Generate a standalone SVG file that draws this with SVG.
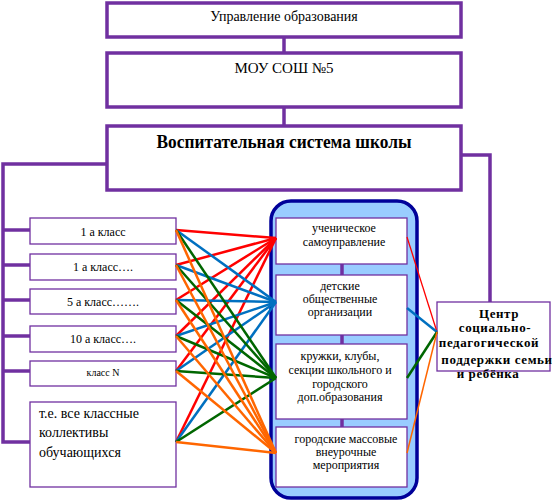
<svg xmlns="http://www.w3.org/2000/svg" width="552" height="501" viewBox="0 0 552 501">
<style>
.top{fill:#fff;stroke:#7030A0;stroke-width:3.5}
.box{fill:#fff;stroke:#7030A0;stroke-width:1.3}
.pl{fill:none;stroke:#7030A0;stroke-width:3.5}
text{font-family:'Liberation Serif','DejaVu Serif','Times New Roman',serif;fill:#000}
.c{text-anchor:middle}
.r{stroke:#FF0000}
.b{stroke:#0070C0}
.g{stroke:#006600}
.o{stroke:#FF6600}
#links line{stroke-width:2.5}
</style>
<rect width="552" height="501" fill="#fff"/>
<g id="connectors">
<polyline class="pl" points="284,37 284,53"/>
<polyline class="pl" points="284,107 284,126"/>
<polyline class="pl" points="107,164 3,164 3,442 30,442"/>
<polyline class="pl" points="3,230 30,230"/>
<polyline class="pl" points="3,265 30,265"/>
<polyline class="pl" points="3,300 30,300"/>
<polyline class="pl" points="3,336 30,336"/>
<polyline class="pl" points="3,371 30,371"/>
<polyline class="pl" points="461,155 490,155 490,302"/>
</g>
<g id="n-upr"><rect class="top" x="107" y="3" width="354" height="34"/><text class="c" x="284" y="21" font-size="14">Управление образования</text></g>
<g id="n-mou"><rect class="top" x="107" y="53" width="354" height="54"/><text class="c" x="284" y="73" font-size="15">МОУ СОШ №5</text></g>
<g id="n-vs"><rect class="top" x="107" y="126" width="354" height="64"/><text class="c" x="284" y="148" font-size="18" font-weight="bold" textLength="255" lengthAdjust="spacingAndGlyphs">Воспитательная система школы</text></g>
<g id="n-c1"><rect class="box" x="30" y="218" width="146" height="26"/><text class="c" x="103" y="236" font-size="12">1  а класс</text></g>
<g id="n-c2"><rect class="box" x="30" y="254" width="146" height="26"/><text class="c" x="103" y="271" font-size="12">1  а класс….</text></g>
<g id="n-c3"><rect class="box" x="30" y="289" width="146" height="25"/><text class="c" x="103" y="306" font-size="12">5 а класс…….</text></g>
<g id="n-c4"><rect class="box" x="30" y="326" width="146" height="26"/><text class="c" x="103" y="343" font-size="12">10 а класс….</text></g>
<g id="n-c5"><rect class="box" x="30" y="361" width="146" height="25"/><text class="c" x="103" y="376" font-size="10">класс  N</text></g>
<g id="n-c6"><rect class="box" x="30" y="402" width="146" height="85"/><text x="39" y="418" font-size="14">т.е. все классные</text><text x="39" y="437" font-size="14">коллективы</text><text x="39" y="457" font-size="14">обучающихся</text></g>
<g id="n-cont"><rect x="271" y="201" width="146" height="297" rx="20" fill="#99CCFF" stroke="#000099" stroke-width="3.5"/>
<polyline class="pl" points="342,264 342,275"/><polyline class="pl" points="342,335 342,344"/><polyline class="pl" points="342,419 342,427"/></g>
<g id="n-a"><rect class="box" x="276" y="218" width="131" height="46"/><text class="c" x="344" y="232" font-size="12">ученическое</text><text class="c" x="344" y="246" font-size="12">самоуправление</text></g>
<g id="n-b"><rect class="box" x="276" y="275" width="131" height="60"/><text class="c" x="340" y="290" font-size="12">детские</text><text class="c" x="340" y="303" font-size="12">общественные</text><text class="c" x="340" y="316" font-size="12">организации</text></g>
<g id="n-cc"><rect class="box" x="276" y="344" width="131" height="75"/><text class="c" x="340" y="360" font-size="12">кружки, клубы,</text><text class="c" x="340" y="374" font-size="12">секции школьного и</text><text class="c" x="340" y="388" font-size="12">городского</text><text class="c" x="340" y="401" font-size="12">доп.образования</text></g>
<g id="n-d"><rect class="box" x="276" y="427" width="131" height="60"/><text class="c" x="346" y="443" font-size="12">городские массовые</text><text class="c" x="346" y="456" font-size="12">внеурочные</text><text class="c" x="346" y="469" font-size="12">мероприятия</text></g>
<g id="n-center"><rect class="box" x="437" y="302" width="113" height="69"/><text class="c" font-size="13" font-weight="bold" letter-spacing="0.6"><tspan x="499" y="318">Центр</tspan><tspan x="495" y="332">социально-</tspan><tspan x="489" y="347">педагогической</tspan><tspan x="497" y="364">поддержки семьи</tspan><tspan x="488" y="378">и ребёнка</tspan></text></g>
<g id="links">
<line class="r" x1="176" y1="230" x2="276" y2="238"/><line class="r" x1="176" y1="265" x2="276" y2="238"/><line class="r" x1="176" y1="300" x2="276" y2="238"/><line class="r" x1="176" y1="336" x2="276" y2="238"/><line class="r" x1="176" y1="371" x2="276" y2="238"/><line class="r" x1="176" y1="442" x2="276" y2="238"/>
<line class="b" x1="176" y1="230" x2="276" y2="302"/><line class="b" x1="176" y1="265" x2="276" y2="302"/><line class="b" x1="176" y1="300" x2="276" y2="302"/><line class="b" x1="176" y1="336" x2="276" y2="302"/><line class="b" x1="176" y1="371" x2="276" y2="302"/><line class="b" x1="176" y1="442" x2="276" y2="302"/>
<line class="g" x1="176" y1="230" x2="276" y2="378"/><line class="g" x1="176" y1="265" x2="276" y2="378"/><line class="g" x1="176" y1="300" x2="276" y2="378"/><line class="g" x1="176" y1="336" x2="276" y2="378"/><line class="g" x1="176" y1="371" x2="276" y2="378"/><line class="g" x1="176" y1="442" x2="276" y2="378"/>
<line class="o" x1="176" y1="230" x2="276" y2="453"/><line class="o" x1="176" y1="265" x2="276" y2="453"/><line class="o" x1="176" y1="300" x2="276" y2="453"/><line class="o" x1="176" y1="336" x2="276" y2="453"/><line class="o" x1="176" y1="371" x2="276" y2="453"/><line class="o" x1="176" y1="442" x2="276" y2="453"/>
<line class="r" x1="407" y1="237" x2="437" y2="332" style="stroke-width:1.3"/>
<line class="b" x1="407" y1="308" x2="437" y2="332" style="stroke-width:2.5"/>
<line class="g" x1="407" y1="378" x2="437" y2="332" style="stroke-width:2.5"/>
<line class="o" x1="407" y1="453" x2="437" y2="332" style="stroke-width:1.5"/>
</g>
</svg>
